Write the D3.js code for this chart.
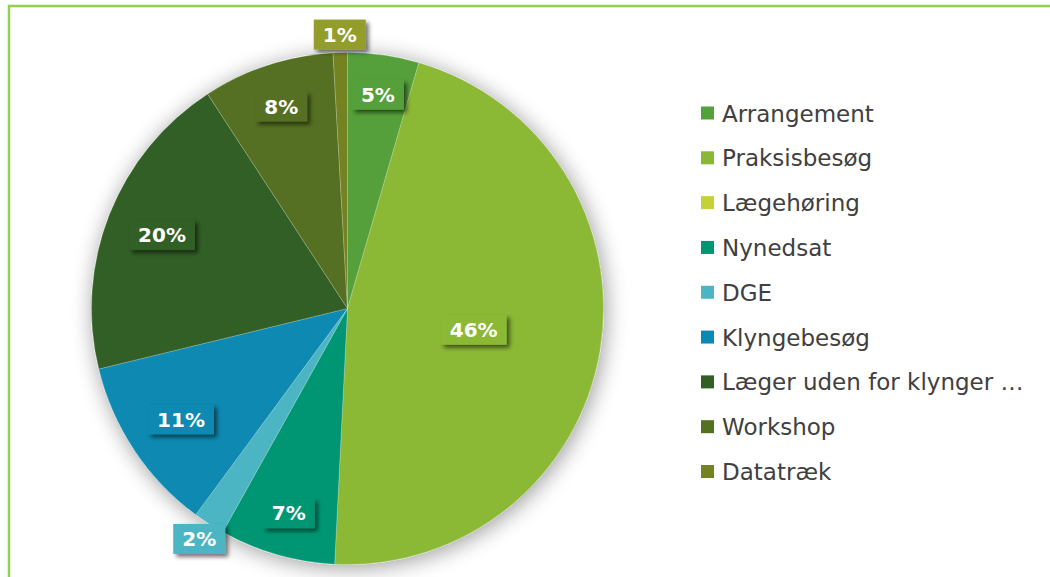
<!doctype html>
<html>
<head>
<meta charset="utf-8">
<script src="https://d3js.org/d3.v7.min.js"></script>
<style>
  body { margin: 0; background: #fff; }
  .legend text { font-family: "DejaVu Sans", Verdana, sans-serif; font-size: 23px; fill: #404040; }
  .lbl text { font-family: "DejaVu Sans", Verdana, sans-serif; font-weight: bold; font-size: 20px; fill: #fff; }
</style>
</head>
<body>
<svg width="1050" height="577" id="chart"></svg>
<script>
    // data
    var categories = ["Arrangement", "Praksisbesøg", "Lægehøring", "Nynedsat", "DGE",
                      "Klyngebesøg", "Læger uden for klynger …", "Workshop", "Datatræk"];
    var values = [4.5, 46.3, 0, 7.3, 2.0, 11.1, 19.6, 8.3, 0.9];
    var colors = ["#54a03b", "#8bb834", "#c4d139", "#009673", "#4bb5c4",
                  "#0a89b2", "#335f25", "#547021", "#758221"];
    var labelColors = ["#54a03b", "#8bb834", "#c4d139", "#009673", "#4bb5c4",
                       "#0a89b2", "#335f25", "#547021", "#939d2b"];

    var svg = d3.select("#chart"),
        cx = 347.5, cy = 308.5, R = 256;

    var data = categories.map(function(c, i) {
        return {name: c, value: values[i], color: colors[i], lcolor: labelColors[i]};
    });
    var total = d3.sum(values);

    //filters
    var defs = svg.append("defs");
    var f1 = defs.append("filter").attr("id", "pieShadow")
        .attr("x", "-20%").attr("y", "-20%").attr("width", "140%").attr("height", "140%");
    f1.append("feGaussianBlur").attr("in", "SourceAlpha").attr("stdDeviation", 11);
    f1.append("feOffset").attr("dx", 2).attr("dy", 3).attr("result", "b");
    f1.append("feComponentTransfer").append("feFuncA").attr("type", "linear").attr("slope", 0.4);
    var m1 = f1.append("feMerge");
    m1.append("feMergeNode");
    m1.append("feMergeNode").attr("in", "SourceGraphic");

    var f2 = defs.append("filter").attr("id", "lblShadow")
        .attr("x", "-30%").attr("y", "-40%").attr("width", "160%").attr("height", "180%");
    f2.append("feGaussianBlur").attr("in", "SourceAlpha").attr("stdDeviation", 2);
    f2.append("feOffset").attr("dx", 3).attr("dy", 3);
    f2.append("feComponentTransfer").append("feFuncA").attr("type", "linear").attr("slope", 0.55);
    var m2 = f2.append("feMerge");
    m2.append("feMergeNode");
    m2.append("feMergeNode").attr("in", "SourceGraphic");

    //frame
    svg.append("rect")
       .attr("x", 9).attr("y", 6)
       .attr("width", 1200).attr("height", 800)
       .attr("fill", "none")
       .attr("stroke", "#92d050")
       .attr("stroke-width", 2.5);

    //pie
    var pie = d3.pie().sort(null).value(function(d) { return d.value; });
    var arcs = pie(data);
    var arc = d3.arc().innerRadius(0).outerRadius(R);

    var g = svg.append("g")
        .attr("transform", "translate(" + cx + "," + cy + ")");

    g.append("g")
     .attr("filter", "url(#pieShadow)")
     .selectAll("path")
     .data(arcs.filter(function(d) { return d.data.value > 0; }))
     .enter().append("path")
     .attr("d", arc)
     .attr("fill", function(d) { return d.data.color; })
     .attr("stroke", "rgba(255,255,255,0.35)")
     .attr("stroke-width", 0.6);

    //labels
    var lbl = g.selectAll(".lbl")
        .data(arcs.filter(function(d) { return d.data.value > 0; }))
        .enter().append("g")
        .attr("class", "lbl");

    lbl.append("rect")
       .attr("fill", function(d) { return d.data.lcolor; })
       .attr("filter", "url(#lblShadow)");

    lbl.append("text")
       .attr("text-anchor", "middle")
       .attr("dy", "0.36em")
       .text(function(d) { return Math.round(d.data.value / total * 100) + "%"; });

    // size boxes, then place: big slice at half radius, tiny ones outside,
    // the rest pushed out as far as the box fits inside the circle
    lbl.each(function(d) {
        var el = d3.select(this),
            w = el.select("text").node().getComputedTextLength() + 18,
            h = 30,
            pct = d.data.value / total,
            mid = (d.startAngle + d.endAngle) / 2,
            ux = Math.sin(mid), uy = -Math.cos(mid),
            r;
        if (pct > 0.3) r = R * 0.5;
        else if (pct < 0.03) r = R + 18;
        else {
            var lim = R - 20;
            for (r = R; r > 0; r -= 0.5) {
                var ok = [[-1, -1], [1, -1], [1, 1], [-1, 1]].every(function(s) {
                    var px = r * ux + s[0] * w / 2, py = r * uy + s[1] * h / 2;
                    return Math.sqrt(px * px + py * py) <= lim;
                });
                if (ok) break;
            }
        }
        el.attr("transform", "translate(" + (r * ux) + "," + (r * uy) + ")");
        el.select("rect")
          .attr("x", -w / 2).attr("y", -h / 2)
          .attr("width", w).attr("height", h);
    });

    //legend
    var yLeg = d3.scalePoint().domain(categories).range([113, 471.5]);
    var leg = svg.append("g").attr("class", "legend")
        .selectAll("g")
        .data(data)
        .enter().append("g")
        .attr("transform", function(d) { return "translate(701," + yLeg(d.name) + ")"; });

    leg.append("rect")
       .attr("x", 0).attr("y", -6.5)
       .attr("width", 13).attr("height", 13)
       .attr("fill", function(d) { return d.color; });

    leg.append("text")
       .attr("x", 21)
       .attr("dy", "0.37em")
       .text(function(d) { return d.name; });
</script>
</body>
</html>
